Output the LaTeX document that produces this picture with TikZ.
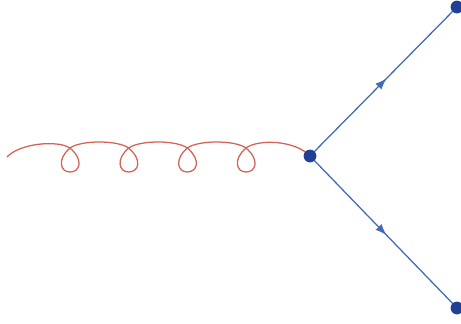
\documentclass[tikz,border=0pt]{standalone}
\usetikzlibrary{decorations.markings, arrows.meta, backgrounds}
\definecolor{gluonred}{RGB}{212,98,86}
\definecolor{quarkblue}{RGB}{66,106,182}
\definecolor{dotblue}{RGB}{32,64,150}

\begin{document}
\begin{tikzpicture}[
  x=0.025cm, y=-0.025cm,
  gluon/.style={draw=gluonred, line width=0.9pt},
  fermion/.style={draw=quarkblue, line width=0.9pt, postaction={decorate},
                  decoration={markings, mark=at position 0.52 with {\arrow[quarkblue]{Latex[length=8pt, width=6pt]}}}},
  vertex/.style={circle, fill=dotblue, inner sep=0pt, minimum size=0.32cm}
]
\useasboundingbox (0,0) rectangle (461,323);
% external points and vertex
\coordinate (gin) at (7,157);
\node[vertex] (v) at (310,156) {};
\node[vertex] (q1) at (457,7) {};
\node[vertex] (q2) at (457,308) {};

\begin{scope}[on background layer]
% gluon line, four loops
\draw[gluon] (gin) .. controls (20,143) and (58,140) .. (70,148)
  \foreach \x in {70,128.7,187.3} {
    .. controls (\x+14,160) and (\x+10,172) .. (\x,172)
    .. controls (\x-10,172) and (\x-13,159) .. (\x,148)
    .. controls (\x+11,140) and (\x+47.7,140) .. (\x+58.7,148)
  }
  .. controls (260,160) and (256,172) .. (246,172)
  .. controls (236,172) and (233,159) .. (246,148)
  .. controls (258,139) and (295,140) .. (v.center);
% quark lines
\draw[fermion] (v.center) -- (q1.center);
\draw[fermion] (v.center) -- (q2.center);
\end{scope}
\end{tikzpicture}
\end{document}
